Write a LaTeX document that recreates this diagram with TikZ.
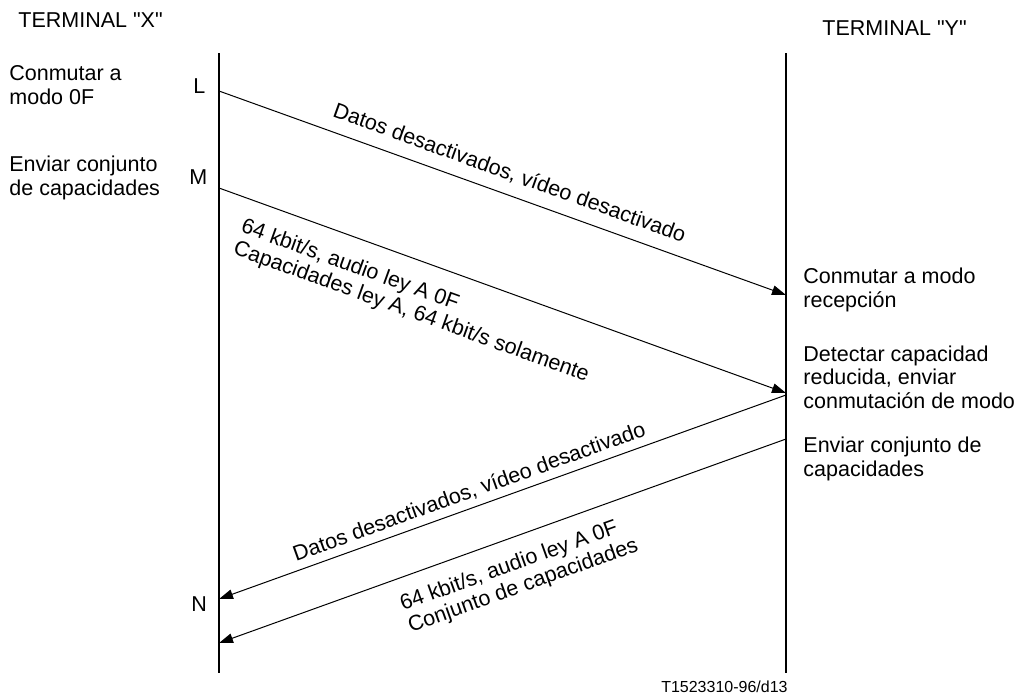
\documentclass[tikz,border=0pt]{standalone}
\usepackage{fontspec}
\setmainfont{Liberation Sans}[Ligatures=TeXOff]
\usetikzlibrary{arrows.meta}
\newcommand\txtfont{\fontsize{10.75}{11.65}\selectfont}
\newcommand\smallfont{\fontsize{8}{9.5}\selectfont}
\begin{document}
\begin{tikzpicture}[x=0.5pt,y=-0.5pt,
  lifeline/.style={line width=1pt},
  msg/.style={line width=0.5pt,-{Triangle[length=7pt,width=4.8pt]}},
  txt/.style={font=\txtfont,inner sep=0pt,anchor=base west,align=left},
  lbl/.style={font=\txtfont,inner sep=0pt,sloped,align=left}]
\useasboundingbox (0,0) rectangle (1015,696);
% lifelines
\coordinate (xtop) at (219,53); \coordinate (xbot) at (219,673);
\coordinate (ytop) at (786,53); \coordinate (ybot) at (786,673);
\draw[lifeline] (xtop) -- (xbot);
\draw[lifeline] (ytop) -- (ybot);
% message end points
\coordinate (a1s) at (219,91);  \coordinate (a1e) at (786,295);
\coordinate (a2s) at (219,188); \coordinate (a2e) at (786,393);
\coordinate (a3s) at (786,395); \coordinate (a3e) at (219,599);
\coordinate (a4s) at (786,439); \coordinate (a4e) at (219,643);
\draw[msg] (a1s) -- node[lbl,above=5.5pt,pos=0.5] {Datos desactivados, vídeo desactivado} (a1e);
\draw[msg] (a2s) -- node[lbl,below=9pt,pos=0.37] {64 kbit/s, audio ley A 0F\\Capacidades ley A, 64 kbit/s solamente} (a2e);
\draw[msg] (a3s) -- node[lbl,above=3pt,pos=0.549] {Datos desactivados, vídeo desactivado} (a3e);
\draw[msg] (a4s) -- node[lbl,below=8pt,pos=0.493] {64 kbit/s, audio ley A 0F\\Conjunto de capacidades} (a4e);
% terminal titles
\node[txt] (tx) at (18,27) {TERMINAL "X"};
\node[txt] (ty) at (822,35) {TERMINAL "Y"};
% left side texts (anchor = baseline of last line)
\node[txt] (c1) at (9,104) {Conmutar a\\modo 0F};
\node[txt] (c2) at (9,195) {Enviar conjunto\\de capacidades};
\node[txt] (lL) at (193,93) {L};
\node[txt] (lM) at (189,184) {M};
\node[txt] (lN) at (191,611) {N};
% right side texts
\node[txt] (r1) at (803,307) {Conmutar a modo\\recepción};
\node[txt] (r2) at (803,408) {Detectar capacidad\\reducida, enviar\\conmutación de modo};
\node[txt] (r3) at (803,476) {Enviar conjunto de\\capacidades};
% figure id
\node[font=\smallfont,inner sep=0pt,anchor=base east] (fid) at (788,692) {T1523310-96/d13};
\end{tikzpicture}
\end{document}
